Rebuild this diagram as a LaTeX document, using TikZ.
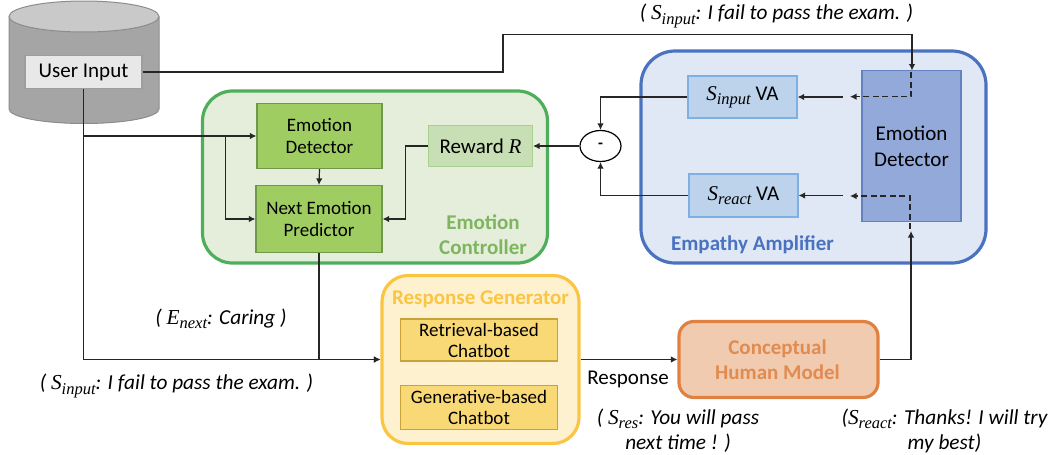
\documentclass[tikz,border=0pt]{standalone}
\usepackage{fontspec}
\setmainfont{Carlito}
\newfontfamily\mfont{Liberation Serif}
\newcommand{\symsub}[2]{{\mfont\itshape #1\raisebox{-0.2em}{\fontsize{16.5}{16.5}\selectfont #2}}}
\usetikzlibrary{arrows.meta,shapes.geometric}
\definecolor{cylbody}{HTML}{A5A5A5}
\definecolor{cyltop}{HTML}{C9C9C9}
\definecolor{cyledge}{HTML}{8C8C8C}
\definecolor{gpanel}{HTML}{E4EEDB}
\definecolor{gedge}{HTML}{4FAE5C}
\definecolor{gbox}{HTML}{A0CD62}
\definecolor{gboxe}{HTML}{6F984C}
\definecolor{gsoft}{HTML}{C8DFB6}
\definecolor{gsofte}{HTML}{A9D18E}
\definecolor{gtext}{HTML}{7FB55F}
\definecolor{bpanel}{HTML}{DFE8F4}
\definecolor{bedge}{HTML}{4A72C0}
\definecolor{bbox}{HTML}{92A9D9}
\definecolor{bboxe}{HTML}{6483BE}
\definecolor{vabox}{HTML}{BDD3EC}
\definecolor{vaboxe}{HTML}{7FB0E3}
\definecolor{ypanel}{HTML}{FDF1CF}
\definecolor{yedge}{HTML}{FBC544}
\definecolor{ybox}{HTML}{F9D876}
\definecolor{yboxe}{HTML}{C9A23A}
\definecolor{opanel}{HTML}{F1CBB0}
\definecolor{oedge}{HTML}{E0813F}
\definecolor{otext}{HTML}{E08B50}
\tikzset{
  x=1pt,y=-1pt,
  panel/.style={draw,line width=3.2pt,align=center,inner sep=0pt},
  blockbox/.style={draw,line width=1.2pt,align=center,inner sep=0pt,font=\fontsize{19}{23}\selectfont},
  bigbox/.style={blockbox,font=\fontsize{21}{25}\selectfont},
  conn/.style={draw=black!85,line width=1.2pt},
  arr/.style={conn,-{Latex[length=6.5pt,width=6.5pt]}},
  dashconn/.style={conn,dash pattern=on 6pt off 3.5pt,-{Latex[length=6.5pt,width=6.5pt]}},
  title/.style={font=\bfseries\fontsize{21}{25}\selectfont,align=center,inner sep=0pt},
  lab/.style={font=\fontsize{21}{25}\selectfont,align=center,inner sep=0pt},
  note/.style={font=\itshape\fontsize{21.3}{25}\selectfont,align=center,inner sep=0pt},
}
\begin{document}
\begin{tikzpicture}
\useasboundingbox (0,0) rectangle (1052,455);
% database
\path[fill=cylbody,draw=cyledge,line width=1pt] (9,17) -- (9,109) arc[start angle=180,end angle=360,x radius=75,y radius=-14.5] -- (159,17) -- cycle;
\path[fill=cyltop,draw=cyledge,line width=1pt] (84,16.5) ellipse[x radius=75,y radius=15.5];
\node[bigbox,fill=black!9,draw=black!38,minimum width=117pt,minimum height=33pt] (user) at (83.5,72) {User Input};
% panels
\node[panel,draw=gedge,fill=gpanel,rounded corners=30pt,minimum width=345pt,minimum height=172pt] (ctrl) at (375,177) {};
\node[panel,draw=bedge,fill=bpanel,rounded corners=34pt,minimum width=345pt,minimum height=212pt] (amp) at (813.5,157) {};
\node[panel,draw=yedge,fill=ypanel,rounded corners=26pt,minimum width=197pt,minimum height=168pt] (rg) at (480.5,359.5) {};
\node[panel,draw=oedge,fill=opanel,rounded corners=15pt,minimum width=199pt,minimum height=76pt] (human) at (778.5,359.5) {};
% emotion controller
\node[blockbox,fill=gbox,draw=gboxe,minimum width=125pt,minimum height=65pt] (ed) at (319.5,136) {Emotion\\[-1.5pt]Detector};
\node[blockbox,fill=gbox,draw=gboxe,minimum width=126pt,minimum height=67pt] (next) at (319,219) {Next Emotion\\[-1pt]Predictor};
\node[bigbox,fill=gsoft,draw=gsofte,minimum width=104pt,minimum height=41pt] (reward) at (480.5,146) {Reward {\mfont\itshape R}};
\node[title,text=gtext] (ctrltitle) at (483,234.5) {Emotion\\Controller};
% empathy amplifier
\node[blockbox,fill=bbox,draw=bboxe,minimum width=99pt,minimum height=151pt,font=\fontsize{21}{26}\selectfont] (edb) at (911.5,146) {Emotion\\Detector};
\node[bigbox,fill=vabox,draw=vaboxe,minimum width=109pt,minimum height=42pt] (sinput) at (742.5,97) {\symsub{S}{input} VA};
\node[bigbox,fill=vabox,draw=vaboxe,minimum width=109pt,minimum height=43pt] (sreact) at (743.5,195.5) {\symsub{S}{react} VA};
\node[title,text=bedge] (amptitle) at (752.5,245) {Empathy Amplifier};
\node[draw=black,line width=1.2pt,fill=white,ellipse,minimum width=41pt,minimum height=31pt,inner sep=0pt,font=\bfseries\fontsize{16}{20}\selectfont] (minus) at (600.5,146) {\raisebox{-1.5pt}{-}};
% response generator
\node[title,text=yedge] (rgtitle) at (480.5,299) {Response Generator};
\node[blockbox,fill=ybox,draw=yboxe,minimum width=157pt,minimum height=42pt] (ret) at (479,340) {Retrieval-based\\[-2pt]Chatbot};
\node[blockbox,fill=ybox,draw=yboxe,minimum width=157pt,minimum height=44pt] (gen) at (479,407.5) {Generative-based\\[-2pt]Chatbot};
% human model
\node[title,text=otext] (humantitle) at (777.5,359.5) {Conceptual\\Human Model};
% free ends
\coordinate (topcorner) at (503,72);
\coordinate (topcorner2) at (503,34.5);
\coordinate (topend) at (912,34.5);
\coordinate (edin) at (912,70.5);
\coordinate (down) at (83.5,359.5);
\coordinate (split1) at (83.5,136);
\coordinate (split2) at (225.5,136);
\coordinate (rwcorner) at (405.5,146);
\coordinate (d1a) at (850,96.7);
\coordinate (d1b) at (911,96.7);
\coordinate (d1c) at (911,72);
\coordinate (s1) at (843,97);
\coordinate (d2a) at (850,196);
\coordinate (d2b) at (910,196);
\coordinate (d2c) at (910,229);
\coordinate (s2) at (843,195.5);
\coordinate (hmout) at (911,359.5);
\coordinate (edbin) at (911,231);
% connectors
\draw[arr] (user.east) -- (topcorner) -- (topcorner2) -- (topend) -- (edin);
\draw[conn] (user.south) -- (down);
\draw[arr] (down) -- (rg.west);
\draw[arr] (split1) -- (ed.west);
\draw[arr] (split2) |- (next.west);
\draw[arr] (ed.south) -- (next.north);
\draw[arr] (reward.west) -- (rwcorner) |- (next.east);
\draw[arr] (next.south) |- (rg.west);
\draw[arr] (rg.east) -- (human.west);
\draw[arr] (human.east) -- (hmout) -- (edbin);
\draw[arr] (minus.west) -- (reward.east);
\draw[arr] (sinput.west) -| (minus.north);
\draw[arr] (sreact.west) -| (minus.south);
\draw[arr] (s1) -- (sinput.east);
\draw[arr] (s2) -- (sreact.east);
\draw[dashconn] (d1c) -- (d1b) -- (d1a);
\draw[dashconn] (d2c) -- (d2b) -- (d2a);
% notes
\node[note] (n1) at (776.5,16) {( \symsub{S}{input}: I fail to pass the exam. )};
\node[note] (n2) at (221,319) {( \symsub{E}{next}: Caring )};
\node[note] (n3) at (176.5,386) {( \symsub{S}{input}: I fail to pass the exam. )};
\node[lab] (resp) at (628,379) {Response};
\node[note] (n4) at (678,430.5) {( \symsub{S}{res}: You will pass\\next time ! )};
\node[note] (n5) at (944.5,430.5) {(\symsub{S}{react}: Thanks! I will try\\my best)};
\end{tikzpicture}
\end{document}
